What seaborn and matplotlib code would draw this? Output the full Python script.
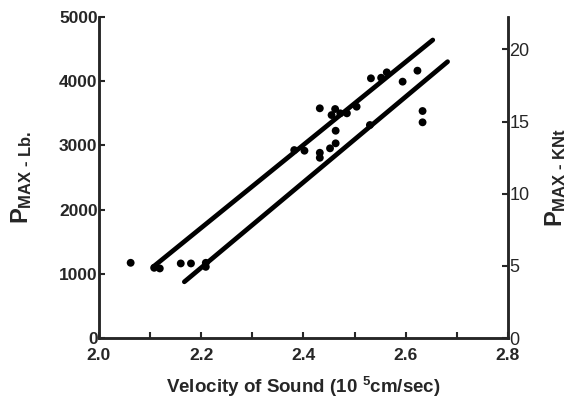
import matplotlib
matplotlib.use("Agg")
import matplotlib.pyplot as plt
import seaborn as sns
import pandas as pd
from matplotlib.ticker import MultipleLocator

# measured points (velocity in 10^5 cm/sec, Pmax in lb)
velocity = [2.062, 2.108, 2.119, 2.160, 2.180, 2.209, 2.209,
            2.382, 2.402, 2.432, 2.432, 2.432, 2.452, 2.455, 2.462,
            2.463, 2.463, 2.472, 2.485, 2.504, 2.530, 2.532, 2.552,
            2.563, 2.594, 2.623, 2.633, 2.633]
p_max = [1173, 1095, 1085, 1163, 1163, 1173, 1110,
         2928, 2918, 3578, 2886, 2808, 2955, 3473, 3567,
         3229, 3033, 3500, 3500, 3603, 3318, 4045, 4054,
         4138, 3993, 4164, 3536, 3360]

# the two fitted lines (end points)
upper_x = [2.106, 2.653]
upper_y = [1110, 4642]
lower_x = [2.167, 2.682]
lower_y = [877, 4304]

LB_PER_KN = 224.8

pts = pd.DataFrame({"v": velocity, "p": p_max})

sns.set_style("ticks")
plt.rcParams["font.family"] = ["Liberation Sans", "DejaVu Sans"]
plt.rcParams["mathtext.fontset"] = "custom"
plt.rcParams["mathtext.rm"] = "Liberation Sans:bold"
plt.rcParams["mathtext.bf"] = "Liberation Sans:bold"
plt.rcParams["mathtext.default"] = "rm"

fig = plt.figure(figsize=(5.72, 4.04), dpi=100)
ax = fig.add_axes([0.173, 0.163, 0.715, 0.795])

sns.lineplot(x=upper_x, y=upper_y, ax=ax, color="black", lw=3.4,
             solid_capstyle="round")
sns.lineplot(x=lower_x, y=lower_y, ax=ax, color="black", lw=3.4,
             solid_capstyle="round")
sns.scatterplot(data=pts, x="v", y="p", ax=ax, color="black", s=32,
                edgecolor="none", zorder=3)

ax.set_xlim(2.0, 2.8)
ax.set_ylim(0, 5000)
ax.set_xticks([2.0, 2.2, 2.4, 2.6, 2.8])
ax.xaxis.set_minor_locator(MultipleLocator(0.1))
ax.set_yticks([0, 1000, 2000, 3000, 4000, 5000])
ax.tick_params(axis="both", which="both", direction="in", labelsize=12.5,
               width=1.5, length=4)
ax.tick_params(axis="x", pad=7)
ax.tick_params(axis="y", pad=1)
plt.setp(ax.get_xticklabels() + ax.get_yticklabels(), fontweight="bold")
ax.set_xlabel("Velocity of Sound (10 $^{5}$cm/sec)", fontsize=13.5,
              fontweight="bold", labelpad=9)
ax.set_ylabel("P$_{\\text{MAX - Lb.}}$", fontsize=17, fontweight="bold",
              labelpad=18)

ax2 = ax.twinx()
ax2.set_ylim(0, 5000 / LB_PER_KN)
ax2.set_yticks([0, 5, 10, 15, 20])
ax2.tick_params(axis="y", direction="in", labelsize=13, width=1.5,
                length=4, pad=1)
ax2.set_ylabel("P$_{\\text{MAX - KNt}}$", fontsize=17, fontweight="bold",
               labelpad=10)

for a in (ax, ax2):
    a.spines["top"].set_visible(False)
    for s in ("left", "right", "bottom"):
        a.spines[s].set_linewidth(1.8)

fig.savefig("out.png", dpi=100)
